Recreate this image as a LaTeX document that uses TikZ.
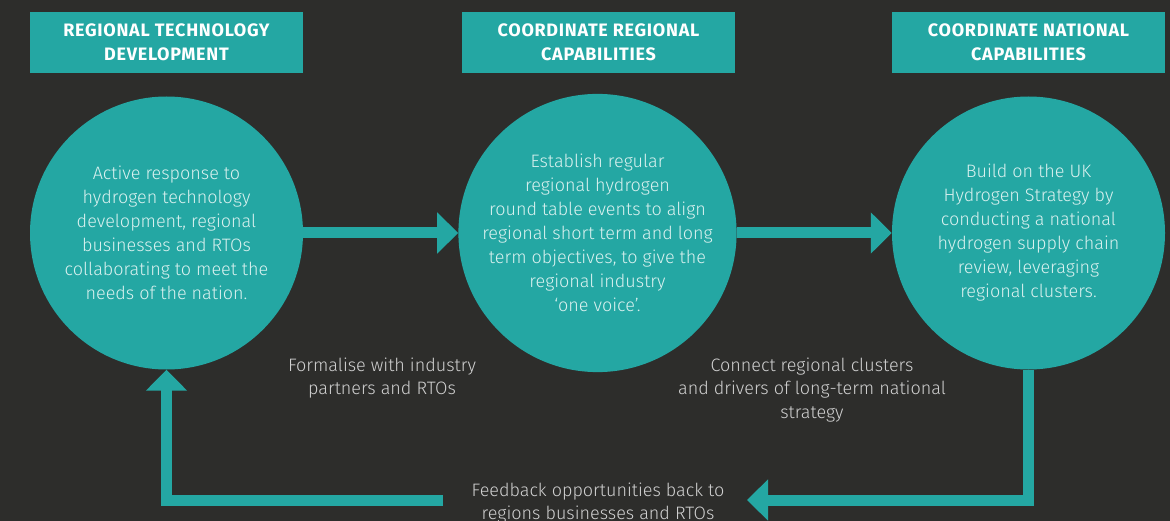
\documentclass[tikz,border=0pt]{standalone}
\usepackage{fontspec}
\setmainfont{Fira Sans}[UprightFont=* Light, BoldFont=* Bold]
\usetikzlibrary{arrows.meta}

\definecolor{pagebg}{HTML}{2D2D2B}
\definecolor{hubteal}{HTML}{24A7A3}
\definecolor{labelgrey}{HTML}{D0D0D0}
\definecolor{stagetext}{HTML}{D9F1EF}

\tikzset{
  headbox/.style={fill=hubteal, minimum width=273pt, minimum height=61pt,
    inner sep=0pt, align=center, text=white,
    font=\bfseries\fontsize{18}{24.5}\selectfont\addfontfeatures{LetterSpace=4}},
  stage/.style={circle, fill=hubteal, minimum size=273pt, inner sep=0pt,
    align=center, text=stagetext, font=\fontsize{18}{24}\selectfont},
  note/.style={align=center, text=labelgrey, inner sep=0pt,
    font=\fontsize{18}{23.5}\selectfont},
  flow/.style={draw=hubteal, line width=11pt,
    -{Triangle[width=40pt,length=21pt]}},
}

\begin{document}
\begin{tikzpicture}[x=1pt, y=-1pt]
  \fill[pagebg] (0,0) rectangle (1170,521);
  \useasboundingbox (0,0) rectangle (1170,521);

  % column headings
  \node[headbox](h1) at ( 166.5, 42.5) {REGIONAL TECHNOLOGY\\DEVELOPMENT};
  \node[headbox](h2) at ( 598.5, 42.5) {COORDINATE REGIONAL\\CAPABILITIES};
  \node[headbox](h3) at (1028.5, 42.5) {COORDINATE NATIONAL\\CAPABILITIES};

  % the three stages
  \node[stage](c1) at ( 166.5, 233) {Active response to\\hydrogen technology\\development, regional\\businesses and RTOs\\collaborating to meet the\\needs of the nation.};
  \node[stage](c2) at ( 597.5, 233) {Establish regular\\regional hydrogen\\round table events to align\\regional short term and long\\term objectives, to give the\\regional industry\\`one voice'.};
  \node[stage](c3) at (1028.5, 233) {Build on the UK\\Hydrogen Strategy by\\conducting a national\\hydrogen supply chain\\review, leveraging\\regional clusters.};

  % notes under the stages
  \node[note](n1)  at (382, 378) {Formalise with industry\\partners and RTOs};
  \node[note](n2)  at (812, 390) {Connect regional clusters\\and drivers of long-term national\\strategy};
  \node[note](fb)  at (598, 503) {Feedback opportunities back to\\regions businesses and RTOs};

  \coordinate (fbR) at (747, 500);
  \coordinate (fbL) at (443, 500);

  \draw[flow] (c1) -- (c2);
  \draw[flow] (c2) -- (c3);
  \draw[flow] (c3.south) |- (fbR);
  \draw[flow] (fbL) -| (c1.south);
\end{tikzpicture}
\end{document}
